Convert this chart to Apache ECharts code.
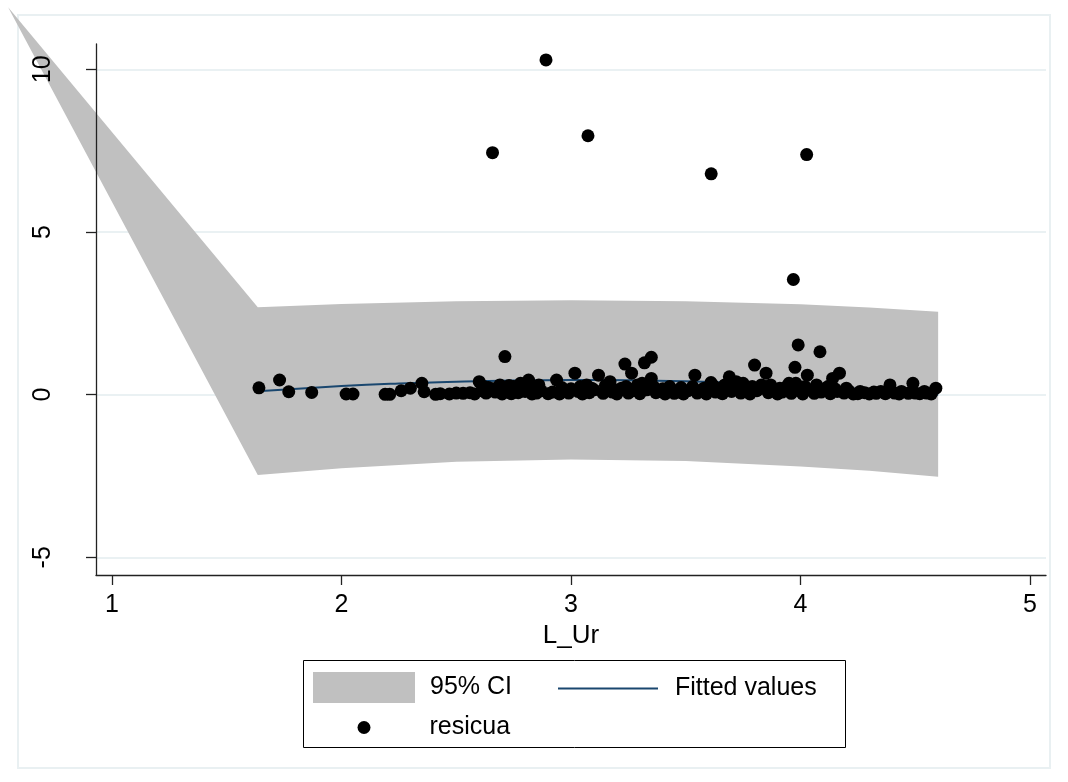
<!DOCTYPE html>
<html>
<head>
<meta charset="utf-8">
<script src="https://cdn.jsdelivr.net/npm/echarts@6/dist/echarts.min.js"></script>
<style>
html,body{margin:0;padding:0;background:#fff;}
#chart{width:1068px;height:782px;}
</style>
</head>
<body>
<div id="chart"></div>
<script>
// ---- data ----
const xTicks = [1, 2, 3, 4, 5];
const yTicks = [-5, 0, 5, 10];

// 95% CI band (x, upper, lower)
const bandX     = [0.547, 1.635, 2.0, 2.5, 3.0, 3.5, 4.0, 4.3, 4.6];
const bandUpper = [11.91, 2.69, 2.79, 2.87, 2.90, 2.87, 2.78, 2.68, 2.55];
const bandLower = [11.91, -2.47, -2.26, -2.06, -1.99, -2.04, -2.21, -2.34, -2.52];

// fitted values
const fitX = [1.635, 2.0, 2.25, 2.5, 2.75, 3.0, 3.25, 3.5, 3.75, 4.0, 4.15, 4.3, 4.45, 4.6];
const fitY = [0.105, 0.263, 0.344, 0.40, 0.437, 0.45, 0.441, 0.41, 0.354, 0.277, 0.22, 0.155, 0.082, 0.0];

// resicua scatter
const resX = [1.64,1.73,1.77,1.87,2.02,2.05,2.19,2.21,2.26,2.30,2.35,2.36,2.41,2.43,2.47,2.50,2.53,2.56,2.58,2.60,
  2.61,2.63,2.64,2.658,2.67,2.69,2.70,2.712,2.72,2.74,2.75,2.77,2.78,2.80,2.815,2.83,2.85,2.87,2.891,2.90,
  2.92,2.937,2.95,2.97,2.99,3.017,3.03,3.05,3.068,3.074,3.08,3.10,3.12,3.14,3.17,3.18,3.20,3.22,3.235,3.25,
  3.264,3.27,3.29,3.30,3.32,3.33,3.35,3.35,3.37,3.39,3.41,3.43,3.45,3.47,3.49,3.51,3.54,3.55,3.57,3.59,
  3.611,3.61,3.63,3.65,3.66,3.69,3.70,3.72,3.74,3.76,3.78,3.80,3.81,3.83,3.85,3.86,3.88,3.90,3.92,3.94,
  3.96,3.969,3.976,3.99,3.98,4.00,4.01,4.027,4.03,4.05,4.06,4.085,4.09,4.11,4.13,4.14,4.16,4.17,4.19,4.21,
  4.23,4.25,4.28,4.30,4.33,4.35,4.37,4.39,4.41,4.43,4.47,4.49,4.52,4.55,4.57,4.59,
  2.62,2.66,2.68,2.73,2.76,2.79,2.82,2.86,2.96,3.00,3.04,3.09,3.15,3.19,3.24,3.28,3.31,3.36,3.40,3.44,
  3.48,3.53,3.58,3.62,3.67,3.71,3.75,3.79,3.82,3.87,3.91,3.95,4.02,4.07,4.12,4.15,4.20,4.26,4.32,4.44,4.50,4.54];
const resY = [0.21,0.45,0.09,0.07,0.02,0.02,0.01,0.01,0.12,0.20,0.35,0.09,0.01,0.03,0.02,0.05,0.04,0.06,0.02,0.40,
  0.12,0.05,0.22,7.44,0.08,0.30,0.02,1.17,0.15,0.03,0.25,0.06,0.35,0.10,0.45,0.02,0.05,0.12,10.29,0.03,
  0.08,0.45,0.02,0.15,0.05,0.66,0.10,0.02,0.30,7.96,0.06,0.15,0.60,0.04,0.40,0.08,0.02,0.20,0.94,0.05,
  0.66,0.12,0.30,0.03,0.98,0.15,1.15,0.50,0.06,0.10,0.02,0.25,0.04,0.08,0.02,0.12,0.60,0.05,0.15,0.02,
  6.79,0.37,0.08,0.20,0.03,0.55,0.10,0.40,0.05,0.18,0.02,0.91,0.12,0.30,0.66,0.06,0.15,0.02,0.08,0.25,
  0.04,3.54,0.84,1.53,0.35,0.10,0.02,7.38,0.60,0.15,0.04,1.32,0.08,0.20,0.03,0.50,0.10,0.66,0.05,0.12,
  0.02,0.03,0.06,0.02,0.04,0.10,0.03,0.30,0.05,0.02,0.04,0.35,0.03,0.05,0.02,0.20,
  0.25,0.18,0.12,0.28,0.20,0.15,0.22,0.30,0.22,0.18,0.25,0.20,0.28,0.15,0.25,0.20,0.35,0.25,0.18,0.15,
  0.22,0.25,0.20,0.28,0.30,0.22,0.35,0.25,0.18,0.30,0.20,0.35,0.25,0.30,0.25,0.18,0.20,0.10,0.08,0.10,0.05,0.10];

const names = ['95% CI', 'Fitted values', 'resicua'];

// ---- chart ----
const FONT = 'Liberation Sans, Arial, sans-serif';
const chart = echarts.init(document.getElementById('chart'), null, {renderer: 'canvas'});

const scatterData = resX.map((x, i) => [x, resY[i]]);
const fitData = fitX.map((x, i) => [x, fitY[i]]);
const Y_MIN = -5.544, Y_MAX = 10.78;

const option = {
  backgroundColor: '#ffffff',
  animation: false,
  textStyle: {fontFamily: FONT, color: '#000'},
  grid: {left: 96, right: 22, top: 44, bottom: 207, containLabel: false},
  xAxis: {
    type: 'value',
    min: 0.93, max: 5.07,
    z: 10,
    name: 'L_Ur',
    nameLocation: 'middle',
    nameGap: 40,
    nameTextStyle: {fontSize: 26, color: '#000', fontFamily: FONT},
    axisLine: {show: true, onZero: false, lineStyle: {color: '#222', width: 1.3}},
    axisTick: {show: true, length: 10, customValues: xTicks, lineStyle: {color: '#222', width: 1.3}},
    axisLabel: {customValues: xTicks, fontSize: 25, color: '#000', margin: 18, fontFamily: FONT},
    splitLine: {show: false}
  },
  yAxis: [
    {
      type: 'value',
      min: Y_MIN, max: Y_MAX,
      z: 10,
      position: 'left',
      axisLine: {show: true, onZero: false, lineStyle: {color: '#222', width: 1.3}},
      axisTick: {show: true, length: 10, customValues: yTicks, lineStyle: {color: '#222', width: 1.3}},
      axisLabel: {customValues: yTicks, fontSize: 25, color: '#000', rotate: 90, margin: 40, fontFamily: FONT},
      splitLine: {show: false}
    },
    {
      // gridlines only, drawn beneath the series
      type: 'value',
      min: Y_MIN, max: Y_MAX,
      z: 0,
      position: 'left',
      axisLine: {show: false},
      axisTick: {show: false, customValues: yTicks},
      axisLabel: {show: false, customValues: yTicks},
      splitLine: {show: true, lineStyle: {color: '#eaf1f3', width: 2}}
    }
  ],
  legend: [
    {data: [{name: '95% CI', icon: 'rect'}], left: 313, top: 672, padding: 0, itemWidth: 102, itemHeight: 31,
     selectedMode: false, textStyle: {fontSize: 25, color: '#000', fontFamily: FONT, padding: [0, 0, 0, 10]}},
    {data: [{name: 'Fitted values', icon: 'path://M0,0L100,0L100,2L0,2Z'}], left: 558, top: 676, padding: 0,
     itemWidth: 100, itemHeight: 14,
     selectedMode: false, textStyle: {fontSize: 25, color: '#000', fontFamily: FONT, padding: [0, 0, 0, 12]}},
    {data: [{name: 'resicua', icon: 'circle'}], left: 357.5, top: 715, padding: 0, itemWidth: 13, itemHeight: 13,
     selectedMode: false, textStyle: {fontSize: 25, color: '#000', fontFamily: FONT, padding: [0, 0, 0, 54]}}
  ],
  graphic: [
    {type: 'rect', z: -10, silent: true,
     shape: {x: 18, y: 15, width: 1032, height: 753},
     style: {fill: 'none', stroke: '#e9f0f2', lineWidth: 2}},
    {type: 'rect', z: 10, silent: true,
     shape: {x: 303.5, y: 660.5, width: 542, height: 87},
     style: {fill: 'none', stroke: '#000', lineWidth: 1}}
  ],
  series: [
    {
      name: names[0],
      type: 'custom',
      clip: false,
      silent: true,
      z: 1,
      itemStyle: {color: '#c0c0c0'},
      data: [[0]],
      renderItem: function (params, api) {
        const pts = [];
        for (let i = 0; i < bandX.length; i++) pts.push(api.coord([bandX[i], bandUpper[i]]));
        for (let i = bandX.length - 1; i >= 0; i--) pts.push(api.coord([bandX[i], bandLower[i]]));
        return {type: 'polygon', shape: {points: pts}, style: {fill: '#c0c0c0', stroke: 'none'}};
      }
    },
    {
      name: names[1],
      type: 'line',
      z: 2,
      data: fitData,
      smooth: true,
      showSymbol: false,
      symbol: 'none',
      silent: true,
      itemStyle: {color: '#1a476f'},
      lineStyle: {color: '#1a476f', width: 2}
    },
    {
      name: names[2],
      type: 'scatter',
      z: 3,
      data: scatterData,
      symbol: 'circle',
      symbolSize: 13,
      silent: true,
      itemStyle: {color: '#000', opacity: 1}
    }
  ]
};
chart.setOption(option);
</script>
</body>
</html>
